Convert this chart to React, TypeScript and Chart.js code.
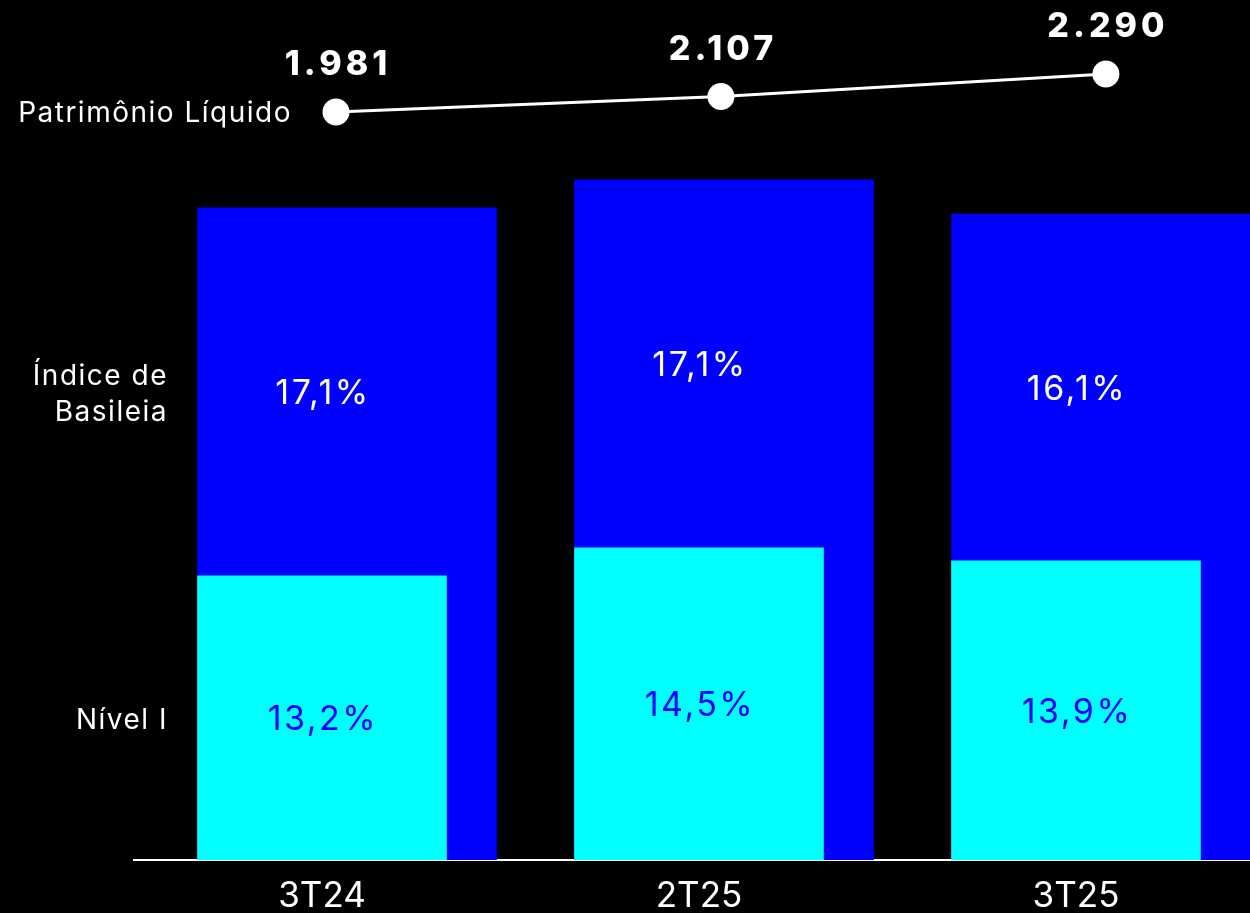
import React, { useEffect, useRef } from "react";
import { Chart, registerables } from "chart.js";

Chart.register(...registerables);

// ---- data ----
const categories = ["3T24", "2T25", "3T25"];
const nivel1 = [13.2, 14.5, 13.9];
const basileia = [17.1, 17.1, 16.1];
const patrimonio = [1981, 2107, 2290];
const nameNivel1 = "Nível I";
const nameBasileia = ["Índice de", "Basileia"];
const namePatrimonio = "Patrimônio Líquido";

// ---- styles ----
const BLUE = "#0000FF";
const CYAN = "#00FFFF";
const FONT = "Inter, 'Noto Sans', sans-serif";
const CYAN_THICK = 249;
const BLUE_THICK = 299;
const PX_PER_CAT = 377;
const BLUE_SHIFT = (BLUE_THICK - CYAN_THICK) / 2 / PX_PER_CAT;
const TEXT_DY = 2;

const fmtPct = (v: number) => v.toFixed(1).replace(".", ",") + "%";
const fmtNum = (v: number) => {
  const s = Math.round(v).toString();
  return s.replace(/\B(?=(\d{3})+(?!\d))/g, ".");
};

const labelsPlugin = {
  id: "customLabels",
  afterDatasetsDraw(chart: any) {
    const ctx = chart.ctx as CanvasRenderingContext2D;
    const x = chart.scales.x;
    const y = chart.scales.y;
    const xl = chart.scales.xLine;
    const yl = chart.scales.yLine;
    ctx.save();
    ctx.textAlign = "center";
    ctx.textBaseline = "middle";
    categories.forEach((_, i) => {
      const cx = x.getPixelForValue(i);
      const yTop = y.getPixelForValue(nivel1[i] + basileia[i]);
      const yMid = y.getPixelForValue(nivel1[i]);
      const yBase = y.getPixelForValue(0);
      ctx.font = `400 34px ${FONT}`;
      (ctx as any).letterSpacing = "2.5px";
      ctx.fillStyle = "#ffffff";
      ctx.fillText(fmtPct(basileia[i]), cx + 1, (yTop + yMid) / 2 + TEXT_DY);
      ctx.fillStyle = BLUE;
      ctx.fillText(fmtPct(nivel1[i]), cx + 1, (yMid + yBase) / 2 + TEXT_DY);

      const px = xl.getPixelForValue(i);
      const py = yl.getPixelForValue(patrimonio[i]);
      ctx.font = `800 34px ${FONT}`;
      (ctx as any).letterSpacing = "4px";
      ctx.fillStyle = "#ffffff";
      ctx.fillText(fmtNum(patrimonio[i]), px + 2, py - 49 + TEXT_DY);
    });

    (ctx as any).letterSpacing = "1.5px";
    ctx.textAlign = "right";
    ctx.fillStyle = "#ffffff";
    ctx.font = `400 28px ${FONT}`;
    const p0x = xl.getPixelForValue(0);
    const p0y = yl.getPixelForValue(patrimonio[0]);
    ctx.fillText(namePatrimonio, p0x - 44, p0y + TEXT_DY);

    const nameX = x.getPixelForValue(0) - 154;
    const bMid =
      (y.getPixelForValue(nivel1[0] + basileia[0]) + y.getPixelForValue(nivel1[0])) / 2;
    ctx.fillText(nameBasileia[0], nameX, bMid - 18 + TEXT_DY + 1);
    ctx.fillText(nameBasileia[1], nameX, bMid + 18 + TEXT_DY + 1);
    const nMid = (y.getPixelForValue(nivel1[0]) + y.getPixelForValue(0)) / 2;
    ctx.fillText(nameNivel1, nameX, nMid + TEXT_DY + 1);
    ctx.restore();
  },
};

export default function App() {
  const ref = useRef<HTMLCanvasElement | null>(null);

  useEffect(() => {
    if (!ref.current) return;
    Chart.defaults.font.family = FONT;
    const chart = new Chart(ref.current, {
      type: "bar",
      data: {
        datasets: [
          {
            type: "line",
            label: namePatrimonio,
            data: patrimonio.map((v, i) => ({ x: i, y: v })),
            xAxisID: "xLine",
            yAxisID: "yLine",
            borderColor: "#ffffff",
            borderWidth: 3,
            pointRadius: 13.5,
            pointBackgroundColor: "#ffffff",
            pointBorderWidth: 0,
            clip: false,
            order: 0,
          } as any,
          {
            label: nameNivel1,
            data: nivel1.map((v, i) => ({ x: i, y: v })),
            backgroundColor: CYAN,
            barThickness: CYAN_THICK,
            grouped: false,
            xAxisID: "x",
            yAxisID: "y",
            order: 1,
          },
          {
            label: nameBasileia.join(" "),
            data: basileia.map((v, i) => ({ x: i + BLUE_SHIFT, y: nivel1[i] + v })),
            backgroundColor: BLUE,
            barThickness: BLUE_THICK,
            grouped: false,
            xAxisID: "x",
            yAxisID: "y",
            order: 2,
          },
        ],
      },
      options: {
        responsive: false,
        animation: false,
        devicePixelRatio: 1,
        layout: { autoPadding: false, padding: { left: 133.5, right: 5.5, top: 0, bottom: 0 } },
        plugins: {
          legend: { display: false },
          tooltip: { enabled: false },
        },
        scales: {
          x: {
            type: "linear",
            offset: false,
            bounds: "data",
            min: -0.5,
            max: 2.5,
            afterBuildTicks: (scale: any) => {
              scale.ticks = categories.map((_, i) => ({ value: i }));
            },
            ticks: {
              color: "#ffffff",
              font: { size: 35, family: FONT },
              padding: 15,
              maxRotation: 0,
              autoSkip: false,
              callback: (v: any) => categories[Number(v)] ?? "",
            },
            grid: { display: false, drawTicks: false, offset: false },
            border: { display: true, color: "#ffffff", width: 2 },
          },
          y: {
            display: false,
            min: 0,
            max: 39.95,
          },
          xLine: {
            type: "linear",
            display: false,
            offset: false,
            bounds: "data",
            grid: { offset: false },
            min: -0.526,
            max: 2.412,
          },
          yLine: {
            type: "linear",
            display: false,
            min: -4101,
            max: 2892,
          },
        },
      },
      plugins: [labelsPlugin],
    } as any);
    return () => chart.destroy();
  }, []);

  return (
    <div
      style={{
        position: "fixed",
        left: 0,
        top: 0,
        width: 1250,
        height: 913,
        background: "#000000",
        overflow: "hidden",
      }}
    >
      <canvas ref={ref} width={1270} height={932} style={{ width: 1270, height: 932, display: "block" }} />
    </div>
  );
}
